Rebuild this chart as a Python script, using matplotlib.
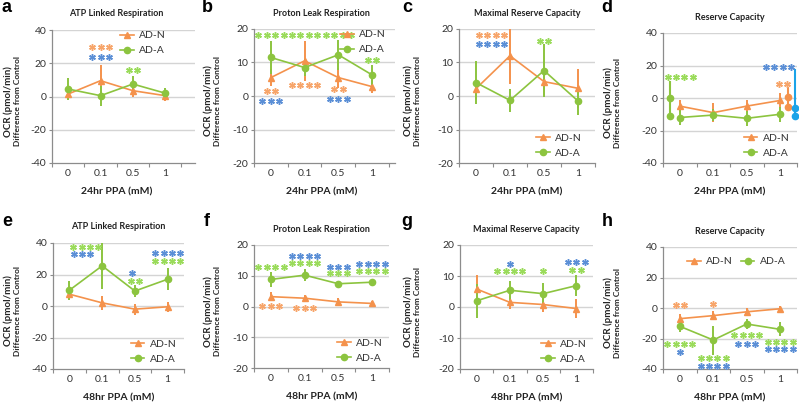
import matplotlib
matplotlib.use("Agg")
import matplotlib.pyplot as plt
from matplotlib.lines import Line2D
import numpy as np

plt.rcParams['font.family'] = ['Lato', 'DejaVu Sans']

ORANGE = '#F4924C'
GREEN = '#8CC43F'
STAR_O = '#F7A56A'
STAR_G = '#9ADB5A'
STAR_B = '#5B8FD6'
CYAN = '#1AA3E8'
GRID = '#D4D4D4'
SPINE = '#8C8C8C'
TXT = '#333333'

doses = ['0', '0.1', '0.5', '1']

# ---- 24 hr ----
atp24_n = [1.5, 9.5, 3.5, 0.5]
atp24_n_err = [3.0, 9.5, 3.5, 3.0]
atp24_a = [4.5, 0.5, 7.5, 2.0]
atp24_a_err = [6.5, 6.0, 5.0, 3.0]

proton24_n = [5.5, 10.5, 5.5, 2.8]
proton24_n_err = [2.5, 6.0, 3.0, 2.0]
proton24_a = [11.5, 8.5, 12.3, 6.3]
proton24_a_err = [5.0, 2.5, 4.5, 3.0]

max24_n = [2.2, 12.0, 4.3, 2.3]
max24_n_err = [3.0, 8.5, 4.0, 5.8]
max24_a = [4.0, -1.3, 7.6, -1.5]
max24_a_err = [6.5, 3.5, 8.0, 4.2]

res24_n = [-5.0, -9.0, -5.0, -1.5]
res24_n_err = [3.5, 6.0, 3.5, 4.5]
res24_a = [-12.0, -10.5, -12.5, -10.0]
res24_a_err = [4.5, 3.5, 4.5, 4.5]

# stray bars drawn in panel d
stray_x = [-0.3, 3.23, 3.43]
stray_top = [10.0, 6.0, 17.0]
stray_hi = [0.0, 0.4, -6.0]
stray_lo = [-11.0, -5.4, -11.0]
stray_col = [GREEN, ORANGE, CYAN]

# ---- 48 hr ----
atp48_n = [7.5, 2.0, -2.0, -0.5]
atp48_n_err = [4.0, 4.5, 3.5, 3.0]
atp48_a = [10.0, 25.5, 9.5, 17.0]
atp48_a_err = [6.0, 14.5, 4.0, 7.0]

proton48_n = [3.2, 2.7, 1.5, 1.0]
proton48_n_err = [1.5, 1.2, 1.2, 0.8]
proton48_a = [8.8, 10.2, 7.4, 7.9]
proton48_a_err = [2.5, 2.0, 0.5, 0.5]

max48_n = [5.8, 1.5, 0.8, -0.5]
max48_n_err = [4.5, 2.0, 2.5, 3.0]
max48_a = [2.0, 5.4, 4.3, 6.9]
max48_a_err = [5.5, 3.0, 3.5, 3.3]

res48_n = [-7.0, -5.0, -2.5, -0.5]
res48_n_err = [3.0, 3.0, 2.5, 2.0]
res48_a = [-12.0, -21.0, -10.5, -14.0]
res48_a_err = [4.0, 9.5, 3.0, 4.5]

# significance stars: (x, y, count, colour)
stars_a = [(1, 30, 3, STAR_O), (1, 23.5, 3, STAR_B), (2, 16, 2, STAR_G)]
stars_b = [(0, 18.3, 4, STAR_G), (1, 18.3, 4, STAR_G), (2, 18.3, 4, STAR_G),
           (3, 10.8, 2, STAR_G), (0, 1.5, 2, STAR_O), (1, 3.3, 4, STAR_O),
           (2, 2, 2, STAR_O), (0, -1.5, 3, STAR_B), (2, -1, 3, STAR_B)]
stars_c = [(0.46, 18.3, 4, STAR_O), (0.46, 15.5, 4, STAR_B), (2, 16.5, 2, STAR_G)]
stars_d = [(0.01, 13.2, 4, STAR_G), (2.95, 18.8, 4, STAR_B), (3.08, 8.7, 2, STAR_O)]
stars_e = [(0.5, 37.2, 4, STAR_G), (0.39, 33, 3, STAR_B), (1.9, 20.8, 1, STAR_B),
           (2, 16, 2, STAR_G), (3, 33.6, 4, STAR_B), (3, 28.3, 4, STAR_G)]
stars_f = [(0, 12.8, 4, STAR_G), (1, 16.5, 4, STAR_B), (1, 14, 4, STAR_G),
           (2, 13, 3, STAR_B), (2, 10.8, 3, STAR_G), (3, 13.8, 4, STAR_B),
           (3, 11.6, 4, STAR_G), (0, 0.3, 3, STAR_O), (1, -0.5, 3, STAR_O)]
stars_g = [(1, 14, 1, STAR_B), (1, 11.5, 4, STAR_G), (2, 11.5, 1, STAR_G),
           (3, 14.5, 3, STAR_B), (3, 11.9, 2, STAR_G)]
stars_h = [(0, 2, 2, STAR_O), (1, 2.5, 1, STAR_O), (0, -23.7, 4, STAR_G),
           (0, -28.7, 1, STAR_B), (1, -32.6, 4, STAR_G), (1, -37.8, 4, STAR_B),
           (2, -17.4, 4, STAR_G), (2, -23.3, 3, STAR_B), (3, -22.2, 4, STAR_G),
           (3, -27, 4, STAR_B)]

W, H = 799.0, 405.0
fig = plt.figure(figsize=(W / 100, H / 100), dpi=100)
fig.patch.set_facecolor('white')


def px_axes(l, t, r, b):
    return fig.add_axes([l / W, 1 - b / H, (r - l) / W, (b - t) / H])


def draw_panel(box, cell, letter, title, hours, ylim, ystep, n, n_err, a, a_err,
               stars, leg, xmax=3.5):
    l, t, r, b = box
    cx, cy = cell
    ax = px_axes(l, t, r, b)
    x = np.arange(4)
    ax.set_xlim(-0.5, xmax)
    ax.set_ylim(*ylim)
    yt = np.arange(ylim[0], ylim[1] + 1, ystep)
    ax.set_yticks(yt)
    ax.set_yticklabels([str(int(v)) for v in yt], fontsize=7.5, color=TXT)
    for v in yt[1:]:
        ax.axhline(v, color=GRID, lw=1.0, zorder=0)
    ax.set_xticks(np.arange(-0.5, 3.6, 1.0))
    ax.set_xticklabels([])
    ax.set_xticks(x, minor=True)
    ax.set_xticklabels(doses, minor=True, fontsize=7.5, color=TXT)
    ax.tick_params(axis='x', which='minor', length=0, pad=4)
    ax.tick_params(axis='x', which='major', length=3, color=SPINE, width=0.8)
    ax.tick_params(axis='y', length=2.5, color=SPINE, width=0.8, pad=1.5)
    for s in ['top', 'right']:
        ax.spines[s].set_visible(False)
    for s in ['left', 'bottom']:
        ax.spines[s].set_color(SPINE)
        ax.spines[s].set_linewidth(0.9)

    ax.errorbar(x, n, yerr=n_err, color=ORANGE, marker='^', ms=5, lw=1.2,
                elinewidth=1.4, capsize=0, zorder=3)
    ax.errorbar(x, a, yerr=a_err, color=GREEN, marker='o', ms=4.5, lw=1.2,
                elinewidth=1.4, capsize=0, zorder=3)

    for sx, sy, cnt, col in stars:
        xs = sx + (np.arange(cnt) - (cnt - 1) / 2.0) * 0.25
        ax.plot(xs, [sy] * cnt, linestyle='none', marker=(6, 2, 0), ms=4.8,
                mew=1.05, color=col, zorder=4, clip_on=False)

    handles = [Line2D([], [], color=ORANGE, marker='^', ms=5, lw=1.2),
               Line2D([], [], color=GREEN, marker='o', ms=4.5, lw=1.2)]
    lg = ax.legend(handles, ['AD-N', 'AD-A'], frameon=False, fontsize=7.5,
                   handlelength=1.3, handletextpad=0.5, labelspacing=0.55,
                   borderaxespad=0.2, **leg)
    for txt in lg.get_texts():
        txt.set_color(TXT)

    fig.text((cx + 7) / W, 1 - (cy + 8) / H, letter, fontsize=13,
             fontweight='bold', family='Liberation Sans', ha='center', va='center')
    mid = (l + r) / 2.0 if xmax == 3.5 else l + (r - l) * 4.0 / (xmax + 0.5) / 2.0
    fig.text(mid / W, 1 - (t - 16) / H, title, fontsize=6.5, fontweight='bold',
             ha='center', va='center', color='#222222')
    fig.text(mid / W, 1 - (b + 29) / H, hours + ' PPA (mM)', fontsize=7.5,
             fontweight='bold', ha='center', va='center', color='#222222')
    ymid = 1 - ((t + b) / 2.0 + 5) / H
    fig.text((cx + 8) / W, ymid, 'OCR (pmol/min)', rotation=90, fontsize=7,
             fontweight='bold', ha='center', va='center', color='#222222')
    fig.text((cx + 18) / W, ymid, 'Difference from Control', rotation=90,
             fontsize=6, fontweight='bold', ha='center', va='center', color='#222222')
    return ax


draw_panel((52, 30, 195, 163), (0, 0), 'a', 'ATP Linked Respiration', '24hr',
           (-40, 40), 20, atp24_n, atp24_n_err, atp24_a, atp24_a_err, stars_a,
           dict(loc='upper right', bbox_to_anchor=(0.84, 1.04)), xmax=3.92)
draw_panel((254, 29, 395, 163), (200, 0), 'b', 'Proton Leak Respiration', '24hr',
           (-20, 20), 10, proton24_n, proton24_n_err, proton24_a, proton24_a_err,
           stars_b, dict(loc='upper right', bbox_to_anchor=(0.98, 1.04)), xmax=3.68)
draw_panel((459, 29, 595, 163), (400, 0), 'c', 'Maximal Reserve Capacity', '24hr',
           (-20, 20), 10, max24_n, max24_n_err, max24_a, max24_a_err, stars_c,
           dict(loc='lower right', bbox_to_anchor=(0.95, -0.01)))
ax_d = draw_panel((663, 33, 797, 163), (600, 0), 'd', 'Reserve Capacity', '24hr',
                  (-40, 40), 20, res24_n, res24_n_err, res24_a, res24_a_err, stars_d,
                  dict(loc='lower right', bbox_to_anchor=(0.99, -0.01)))
for sx, top, hi, lo, col in zip(stray_x, stray_top, stray_hi, stray_lo, stray_col):
    ax_d.plot([sx, sx], [top, lo], color=col, lw=1.5, zorder=3, clip_on=False)
    ax_d.plot([sx, sx], [hi, lo], color=col, marker='o', ms=4.5, lw=0,
              zorder=3, clip_on=False)

draw_panel((53, 243, 184, 369), (0, 214), 'e', 'ATP Linked Respiration', '48hr',
           (-40, 40), 20, atp48_n, atp48_n_err, atp48_a, atp48_a_err, stars_e,
           dict(loc='lower right', bbox_to_anchor=(0.99, -0.01)))
draw_panel((254, 245, 389, 368), (200, 214), 'f', 'Proton Leak Respiration', '48hr',
           (-20, 20), 10, proton48_n, proton48_n_err, proton48_a, proton48_a_err,
           stars_f, dict(loc='lower right', bbox_to_anchor=(1.0, -0.01)))
draw_panel((460, 245, 593, 369), (400, 214), 'g', 'Maximal Reserve Capacity', '48hr',
           (-20, 20), 10, max48_n, max48_n_err, max48_a, max48_a_err, stars_g,
           dict(loc='lower right', bbox_to_anchor=(1.0, -0.01)))
draw_panel((663, 247, 797, 369), (600, 214), 'h', 'Reserve Capacity', '48hr',
           (-40, 40), 20, res48_n, res48_n_err, res48_a, res48_a_err, stars_h,
           dict(loc='upper right', bbox_to_anchor=(0.96, 0.97), ncol=2,
                columnspacing=0.8))

fig.savefig('out.png', dpi=100, facecolor='white')
